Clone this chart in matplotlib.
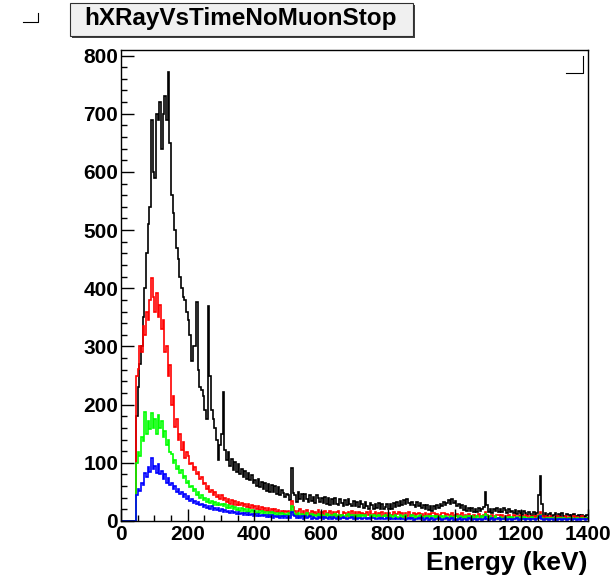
import matplotlib.pyplot as plt
import numpy as np
from matplotlib.patches import Rectangle
from matplotlib.lines import Line2D
from matplotlib.ticker import MultipleLocator

plt.rcParams['font.family'] = ['Liberation Sans', 'DejaVu Sans']

title = 'hXRayVsTimeNoMuonStop'
xlabel = 'Energy (keV)'
bin_width = 5  # keV
x_max = 1400

# counts per 5 keV bin, 0 -> 1400 keV (one row = 100 keV)
black = [0, 0, 0, 0, 0, 0, 0, 0, 0, 180, 230, 270, 300, 350, 400, 460, 510, 540, 690, 600,
         590, 700, 690, 720, 640, 700, 730, 690, 771, 650, 560, 530, 500, 470, 450, 420, 400, 385, 380, 360,
         345, 320, 275, 300, 300, 376, 260, 230, 225, 215, 190, 175, 369, 250, 190, 175, 160, 140, 105, 130,
         150, 221, 122, 105, 118, 95, 106, 88, 102, 84, 98, 80, 90, 76, 86, 72, 82, 70, 79, 66,
         70, 60, 72, 58, 67, 55, 66, 52, 63, 50, 62, 49, 60, 46, 58, 44, 53, 48, 42, 46,
         44, 36, 91, 48, 45, 33, 49, 38, 47, 34, 46, 37, 33, 44, 35, 42, 31, 45, 39, 33,
         40, 31, 41, 30, 39, 28, 38, 29, 40, 30, 27, 37, 31, 26, 36, 28, 38, 29, 25, 34,
         26, 33, 24, 34, 29, 22, 32, 25, 21, 31, 27, 20, 30, 23, 31, 21, 29, 20, 24, 30,
         21, 29, 20, 31, 24, 33, 25, 34, 28, 36, 29, 38, 31, 27, 33, 28, 24, 33, 26, 31,
         23, 28, 21, 27, 19, 26, 18, 25, 20, 28, 22, 30, 25, 33, 28, 31, 36, 30, 37, 31,
         34, 25, 30, 22, 28, 19, 25, 18, 23, 17, 22, 16, 21, 15, 22, 17, 20, 24, 50, 28,
         15, 21, 14, 20, 17, 22, 15, 21, 16, 23, 19, 14, 20, 15, 18, 13, 19, 12, 17, 14,
         11, 17, 13, 10, 16, 12, 9, 15, 11, 14, 45, 77, 30, 9, 14, 8, 12, 13, 8, 11,
         13, 8, 12, 7, 13, 9, 7, 12, 10, 7, 11, 12, 7, 8, 11, 7, 10, 8, 7, 11]

red = [0, 0, 0, 0, 0, 0, 0, 0, 0, 250, 262, 300, 290, 335, 320, 360, 345, 380, 417, 385,
       360, 392, 350, 372, 330, 345, 290, 300, 250, 268, 200, 215, 162, 175, 140, 150, 122, 135, 108, 118,
       112, 98, 100, 88, 92, 80, 84, 72, 76, 64, 66, 55, 60, 50, 54, 45, 50, 41, 45, 38,
       44, 36, 40, 32, 38, 30, 36, 28, 35, 27, 33, 28, 31, 25, 30, 24, 29, 22, 28, 23,
       26, 21, 25, 19, 24, 18, 23, 17, 22, 16, 21, 15, 20, 16, 19, 14, 18, 13, 17, 15,
       17, 13, 35, 24, 18, 11, 17, 20, 12, 18, 10, 19, 14, 11, 18, 10, 16, 12, 19, 10,
       15, 11, 17, 10, 14, 18, 10, 15, 9, 16, 18, 11, 9, 16, 13, 8, 15, 10, 17, 9,
       15, 9, 16, 8, 14, 12, 8, 15, 10, 17, 8, 12, 15, 8, 13, 7, 15, 9, 13, 8,
       14, 7, 11, 15, 9, 12, 16, 10, 13, 7, 14, 9, 15, 7, 11, 14, 8, 12, 14, 7,
       12, 8, 14, 6, 12, 8, 13, 14, 7, 12, 6, 10, 13, 14, 7, 12, 10, 6, 13, 8,
       11, 12, 6, 10, 13, 6, 11, 7, 12, 8, 6, 11, 5, 9, 12, 6, 8, 11, 15, 11,
       6, 9, 11, 6, 8, 10, 11, 5, 10, 5, 9, 8, 10, 6, 5, 10, 8, 5, 9, 10,
       8, 5, 10, 8, 5, 9, 6, 9, 4, 8, 11, 15, 9, 5, 8, 7, 4, 9, 5, 6,
       7, 9, 4, 7, 6, 5, 8, 4, 7, 6, 3, 8, 5, 7, 3, 6, 8, 4, 5, 6]

green = [0, 0, 0, 0, 0, 0, 0, 0, 0, 100, 118, 112, 145, 138, 187, 150, 172, 158, 185, 160,
         175, 150, 183, 160, 172, 145, 155, 130, 140, 118, 115, 100, 104, 90, 95, 82, 88, 74, 78, 66,
         68, 58, 61, 52, 55, 45, 49, 40, 44, 36, 40, 33, 37, 31, 35, 28, 33, 27, 31, 27,
         30, 25, 29, 23, 27, 22, 26, 20, 24, 19, 23, 18, 22, 17, 21, 16, 20, 15, 19, 15,
         18, 14, 18, 13, 17, 12, 16, 11, 15, 11, 15, 10, 14, 10, 13, 9, 13, 9, 12, 10,
         13, 9, 25, 16, 12, 8, 13, 7, 12, 10, 7, 13, 9, 8, 12, 6, 11, 9, 12, 7,
         11, 8, 6, 12, 9, 11, 6, 10, 12, 7, 10, 6, 11, 9, 6, 10, 12, 7, 10, 6,
         10, 7, 11, 5, 10, 8, 10, 6, 5, 10, 7, 11, 5, 8, 10, 7, 5, 9, 10, 6,
         7, 10, 5, 8, 11, 7, 6, 10, 5, 9, 10, 6, 5, 9, 10, 5, 8, 6, 9, 10,
         7, 5, 9, 6, 9, 4, 8, 9, 6, 9, 7, 4, 9, 6, 9, 7, 4, 9, 7, 5,
         8, 9, 4, 8, 7, 5, 8, 4, 8, 5, 8, 5, 4, 8, 4, 6, 8, 5, 12, 8,
         5, 8, 4, 6, 8, 5, 4, 7, 6, 4, 7, 4, 7, 5, 7, 4, 5, 7, 4, 7,
         4, 7, 4, 6, 4, 5, 7, 4, 3, 6, 8, 11, 6, 4, 3, 6, 5, 3, 6, 3,
         6, 3, 5, 6, 3, 5, 3, 4, 6, 3, 5, 4, 3, 6, 4, 3, 5, 4, 3, 5]

blue = [0, 0, 0, 0, 0, 0, 0, 0, 0, 45, 55, 52, 66, 62, 82, 75, 92, 84, 108, 90,
        95, 82, 98, 80, 86, 72, 80, 66, 74, 62, 66, 55, 60, 50, 55, 46, 50, 42, 46, 38,
        43, 35, 38, 31, 35, 29, 33, 27, 30, 24, 28, 22, 26, 21, 25, 19, 23, 19, 22, 17,
        21, 16, 19, 15, 18, 14, 17, 13, 16, 12, 16, 12, 14, 11, 14, 10, 13, 10, 12, 9,
        12, 9, 12, 8, 11, 8, 11, 7, 10, 7, 10, 6, 9, 7, 9, 6, 9, 6, 8, 6,
        8, 6, 15, 10, 8, 5, 8, 5, 8, 4, 8, 5, 7, 8, 4, 7, 6, 4, 7, 6,
        7, 4, 7, 6, 4, 7, 4, 7, 5, 4, 7, 4, 5, 7, 5, 3, 6, 5, 7, 4,
        6, 3, 6, 5, 3, 6, 5, 3, 6, 4, 5, 6, 3, 4, 6, 3, 5, 4, 3, 6,
        3, 6, 4, 3, 6, 4, 3, 6, 4, 4, 2, 4, 6, 3, 5, 2, 4, 3, 6, 4,
        5, 2, 4, 5, 2, 4, 5, 2, 4, 3, 5, 4, 2, 4, 3, 5, 2, 4, 5, 2,
        4, 2, 3, 5, 2, 4, 3, 2, 5, 3, 2, 4, 3, 2, 4, 3, 2, 3, 7, 4,
        2, 3, 5, 2, 3, 4, 5, 2, 3, 3, 5, 2, 3, 4, 2, 3, 4, 5, 2, 3,
        3, 4, 2, 3, 4, 2, 3, 4, 1, 3, 5, 8, 4, 2, 3, 4, 2, 3, 4, 2,
        3, 1, 3, 4, 2, 3, 4, 1, 3, 3, 1, 3, 4, 2, 3, 1, 3, 4, 2, 3]

series = [(black, 'black'), (red, '#ff0000'), (green, '#00ff00'), (blue, '#0000ff')]

W, H = 616, 580
fig = plt.figure(figsize=(W / 100, H / 100), dpi=100)
ax = fig.add_axes([121 / W, 1 - 521 / H, (588 - 121) / W, (521 - 50) / H])

edges = np.arange(0, x_max + bin_width, bin_width)
for vals, col in series:
    ax.stairs(vals, edges, color=col, linewidth=1.2, baseline=None)

ax.set_xlim(0, x_max)
ax.set_ylim(0, max(black) * 1.05)

ax.xaxis.set_major_locator(MultipleLocator(200))
ax.xaxis.set_minor_locator(MultipleLocator(50))
ax.yaxis.set_major_locator(MultipleLocator(100))
ax.yaxis.set_minor_locator(MultipleLocator(20))
ax.tick_params(which='both', direction='in', top=False, right=False, width=1)
ax.tick_params(which='major', length=9)
ax.tick_params(which='minor', length=4.5)
ax.tick_params(axis='x', which='major', labelsize=15, pad=3)
ax.tick_params(axis='y', which='major', labelsize=15, pad=2)
for lab in ax.get_xticklabels() + ax.get_yticklabels():
    lab.set_fontweight('bold')
for sp in ax.spines.values():
    sp.set_linewidth(1)

ax.set_xlabel(xlabel, fontsize=19, fontweight='bold', loc='right', labelpad=5)

# title box with shadow
def px(x, y):
    return x / W, 1 - y / H

sx, sy = px(72, 38)
fig.add_artist(Rectangle((sx, sy), 343 / W, 33 / H, transform=fig.transFigure,
                         facecolor='#404040', edgecolor='none'))
bx, by = px(70, 36)
fig.add_artist(Rectangle((bx, by), 343 / W, 33 / H, transform=fig.transFigure,
                         facecolor='#f0f0f0', edgecolor='#303030', linewidth=0.8))
tx, ty = px(241, 19)
fig.text(tx, ty, title, ha='center', va='center', fontsize=17.5, fontweight='bold')

# small corner marks
def corner(x0, x1, y0, y1):
    a, b = px(x0, y1)
    c, d = px(x1, y1)
    e, f = px(x1, y0)
    fig.add_artist(Line2D([a, c, e], [b, d, f], transform=fig.transFigure,
                          color='black', linewidth=0.8))

corner(23, 38, 13, 22)
corner(566, 583, 56, 73)

fig.savefig('out.png', dpi=100)
